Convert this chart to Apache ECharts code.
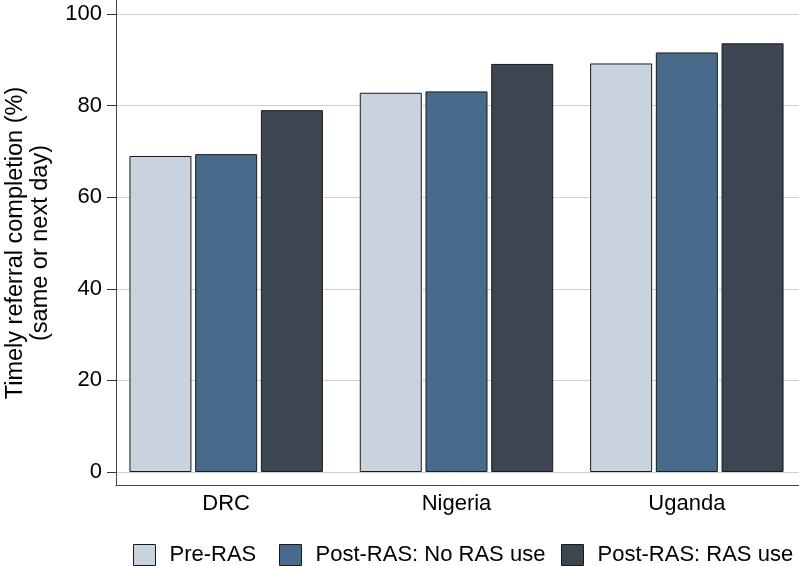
<!DOCTYPE html>
<html><head><meta charset="utf-8">
<script src="https://cdn.jsdelivr.net/npm/echarts@6/dist/echarts.min.js"></script>
<style>html,body{margin:0;padding:0;background:#fff}#c{width:799px;height:566px}</style>
</head><body><div id="c"></div>
<script>
const categories = ['DRC', 'Nigeria', 'Uganda'];
const seriesNames = ['Pre-RAS', 'Post-RAS: No RAS use', 'Post-RAS: RAS use'];
const preRAS = [69.0, 82.8, 89.2];
const postNoRAS = [69.4, 83.1, 91.6];
const postRAS = [79.0, 89.1, 93.6];
const yTicks = [0, 20, 40, 60, 80, 100];
const colors = ['#c9d3dd', '#486a8b', '#3b4652'];

const FONT = '"Liberation Sans", Arial, sans-serif';
const chart = echarts.init(document.getElementById('c'), null, {renderer: 'canvas'});
const values = [preRAS, postNoRAS, postRAS];
const legendLefts = [133, 279, 561];
chart.setOption({
  animation: false,
  textStyle: {fontFamily: FONT, color: '#000'},
  grid: [
    {left: 111, right: -3, top: 14, bottom: 94, outerBoundsMode: 'none', containLabel: false},
    {left: 116, right: 0, top: 0, bottom: 81, outerBoundsMode: 'none', containLabel: false}
  ],
  legend: seriesNames.map((n, i) => ({
    left: legendLefts[i], top: 544, padding: 0, width: 260,
    itemWidth: 22, itemHeight: 21, itemGap: 0,
    icon: 'rect',
    itemStyle: {borderColor: '#1a1a1a', borderWidth: 1},
    textStyle: {fontSize: 22, fontFamily: FONT, color: '#000', padding: [0, 0, 0, 9]},
    data: [n]
  })),
  xAxis: [
    {type: 'category', gridIndex: 0, data: categories,
     axisLine: {show: false}, axisTick: {show: false},
     axisLabel: {fontSize: 22, color: '#000', margin: 21, fontFamily: FONT}},
    {type: 'value', gridIndex: 1, min: 0, max: 1, show: true,
     axisLine: {show: true, onZero: false, lineStyle: {color: '#444', width: 1}},
     axisTick: {show: false}, axisLabel: {show: false}, splitLine: {show: false}}
  ],
  yAxis: [
    {type: 'value', gridIndex: 0, min: yTicks[0], max: yTicks[yTicks.length - 1], interval: 20, offset: -5,
     axisLine: {show: false},
     axisTick: {show: true, length: 9, lineStyle: {color: '#333', width: 1}},
     axisLabel: {fontSize: 22, color: '#000', margin: 14, fontFamily: FONT},
     splitLine: {show: true, lineStyle: {color: '#d0d0d0', width: 1}},
     name: 'Timely referral completion (%)\n(same or next day)',
     nameLocation: 'middle', nameGap: 63, nameRotate: 90,
     nameTextStyle: {fontSize: 23.5, color: '#000', lineHeight: 25, fontFamily: FONT}},
    {type: 'value', gridIndex: 1, min: 0, max: 1,
     axisLine: {show: true, onZero: false, lineStyle: {color: '#444', width: 1}},
     axisTick: {show: false}, axisLabel: {show: false}, splitLine: {show: false}}
  ],
  series: seriesNames.map((n, i) => ({
    name: n, type: 'bar', xAxisIndex: 0, yAxisIndex: 0,
    data: values[i], barWidth: 62, barGap: '6%',
    itemStyle: {color: colors[i], borderColor: '#1a1a1a', borderWidth: 1}
  }))
});
</script></body></html>
